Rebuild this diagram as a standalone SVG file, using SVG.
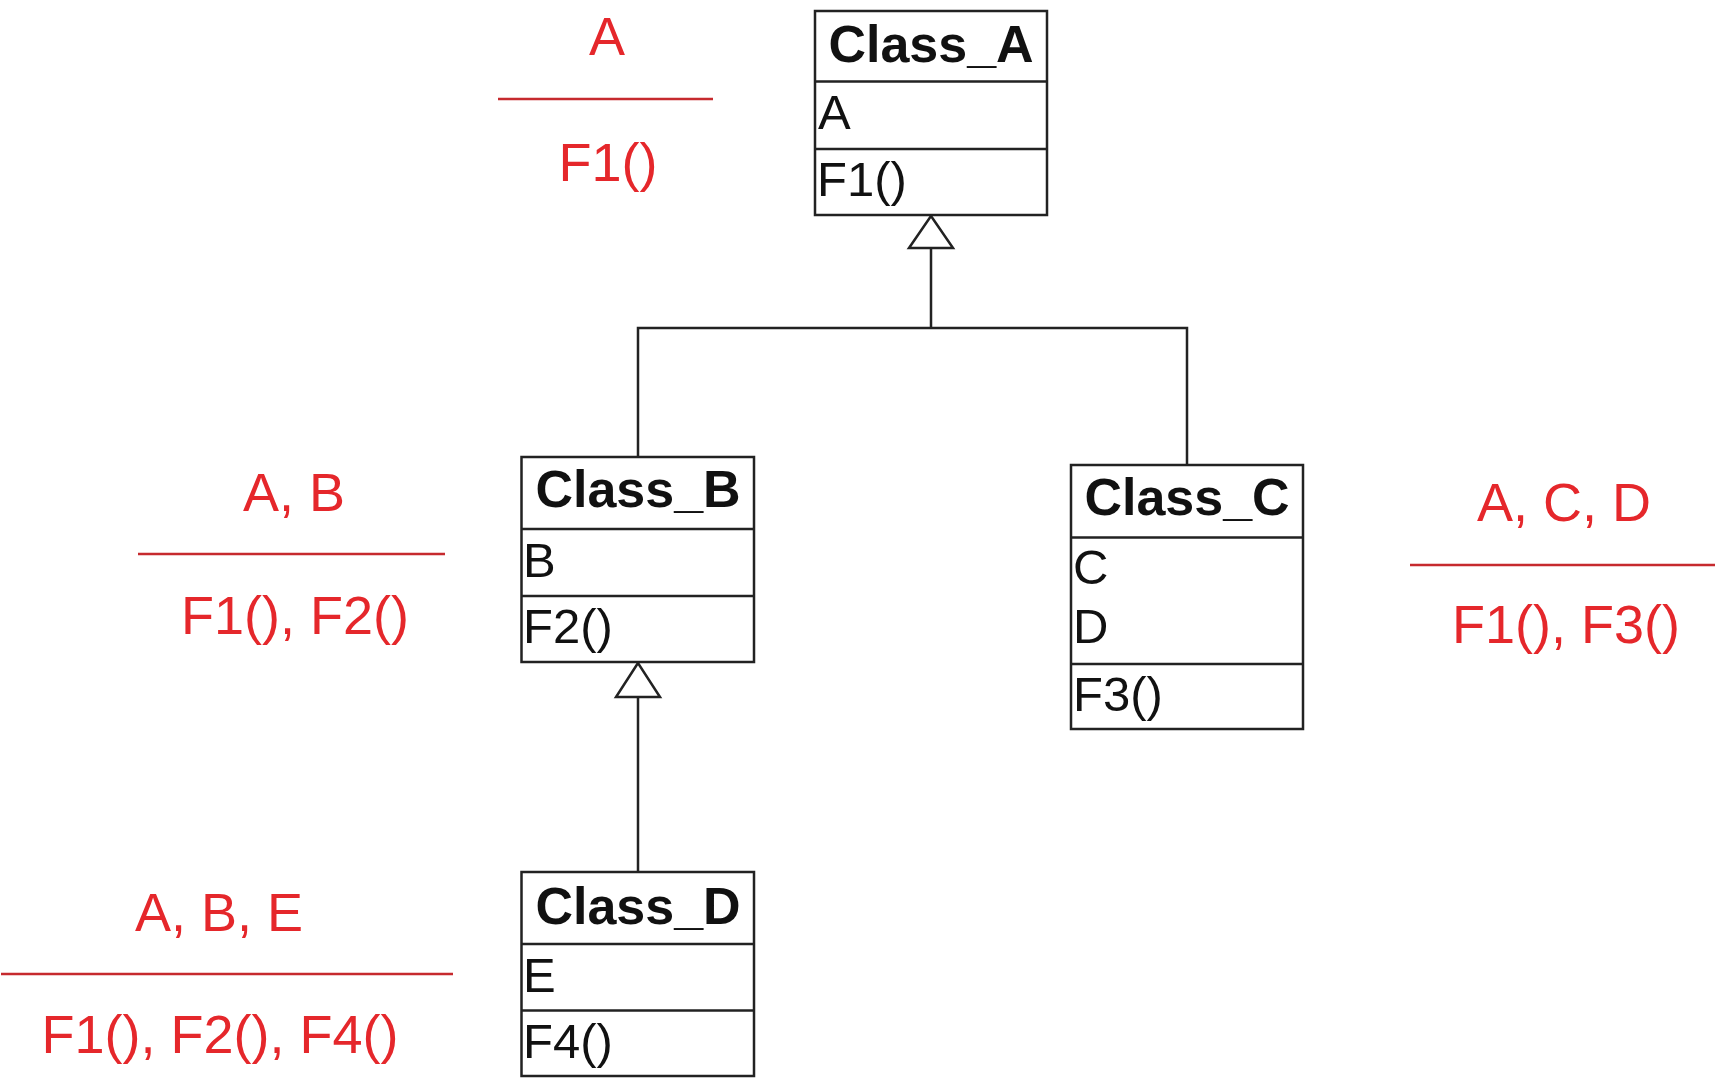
<svg xmlns="http://www.w3.org/2000/svg" width="1731" height="1080" viewBox="0 0 1731 1080">
  <style>
    .box { fill: #ffffff; stroke: #222222; stroke-width: 2.5; }
    .div { stroke: #222222; stroke-width: 2.5; }
    .title { font-family: "Liberation Sans", Arial, sans-serif; font-weight: bold; font-size: 52px; fill: #111111; text-anchor: middle; }
    .member { font-family: "Liberation Sans", Arial, sans-serif; font-size: 49px; fill: #111111; }
    .conn { fill: none; stroke: #222222; stroke-width: 2.5; }
    .head { fill: #ffffff; stroke: #222222; stroke-width: 2.5; stroke-linejoin: miter; }
    .note { font-family: "Liberation Sans", Arial, sans-serif; font-size: 54px; fill: #e5272b; text-anchor: middle; }
    .rule { stroke: #c62a2e; stroke-width: 2.5; }
  </style>

  <rect width="1731" height="1080" fill="#ffffff"/>

  <!-- generalization connectors -->
  <g id="connectors">
    <path class="conn" d="M931 248 V328 M638 457 V328 H1187 V465"/>
    <polygon class="head" points="931,216 909,248 953,248"/>
    <path class="conn" d="M638 697 V872"/>
    <polygon class="head" points="638,663 616,697 660,697"/>
  </g>

  <!-- Class_A -->
  <g id="class_a">
    <rect class="box" x="815" y="11" width="232" height="204"/>
    <line class="div" x1="815" y1="81.5" x2="1047" y2="81.5"/>
    <line class="div" x1="815" y1="149" x2="1047" y2="149"/>
    <text class="title" x="931" y="62">Class_A</text>
    <text class="member" x="818" y="129">A</text>
    <text class="member" x="817" y="196">F1()</text>
  </g>

  <!-- Class_B -->
  <g id="class_b">
    <rect class="box" x="521.5" y="457" width="232.5" height="205"/>
    <line class="div" x1="521.5" y1="529" x2="754" y2="529"/>
    <line class="div" x1="521.5" y1="596" x2="754" y2="596"/>
    <text class="title" x="638" y="507">Class_B</text>
    <text class="member" x="523" y="577">B</text>
    <text class="member" x="523" y="643">F2()</text>
  </g>

  <!-- Class_C -->
  <g id="class_c">
    <rect class="box" x="1071" y="465" width="232" height="264"/>
    <line class="div" x1="1071" y1="537.5" x2="1303" y2="537.5"/>
    <line class="div" x1="1071" y1="664" x2="1303" y2="664"/>
    <text class="title" x="1187" y="515">Class_C</text>
    <text class="member" x="1073" y="584">C</text>
    <text class="member" x="1073" y="643">D</text>
    <text class="member" x="1073" y="711">F3()</text>
  </g>

  <!-- Class_D -->
  <g id="class_d">
    <rect class="box" x="521.5" y="872" width="232.5" height="204"/>
    <line class="div" x1="521.5" y1="944" x2="754" y2="944"/>
    <line class="div" x1="521.5" y1="1010.5" x2="754" y2="1010.5"/>
    <text class="title" x="638" y="924">Class_D</text>
    <text class="member" x="523" y="992">E</text>
    <text class="member" x="523" y="1058">F4()</text>
  </g>

  <!-- inherited members summary for each class -->
  <g id="summary_a">
    <text class="note" x="607" y="55">A</text>
    <line class="rule" x1="498" y1="99" x2="713" y2="99"/>
    <text class="note" x="608" y="181">F1()</text>
  </g>

  <g id="summary_b">
    <text class="note" x="294" y="511">A, B</text>
    <line class="rule" x1="138" y1="554" x2="445" y2="554"/>
    <text class="note" x="295" y="634">F1(), F2()</text>
  </g>

  <g id="summary_c">
    <text class="note" x="1564" y="521">A, C, D</text>
    <line class="rule" x1="1410" y1="565" x2="1715" y2="565"/>
    <text class="note" x="1566" y="643">F1(), F3()</text>
  </g>

  <g id="summary_d">
    <text class="note" x="219" y="931">A, B, E</text>
    <line class="rule" x1="1" y1="974" x2="453" y2="974"/>
    <text class="note" x="220" y="1053">F1(), F2(), F4()</text>
  </g>
</svg>
